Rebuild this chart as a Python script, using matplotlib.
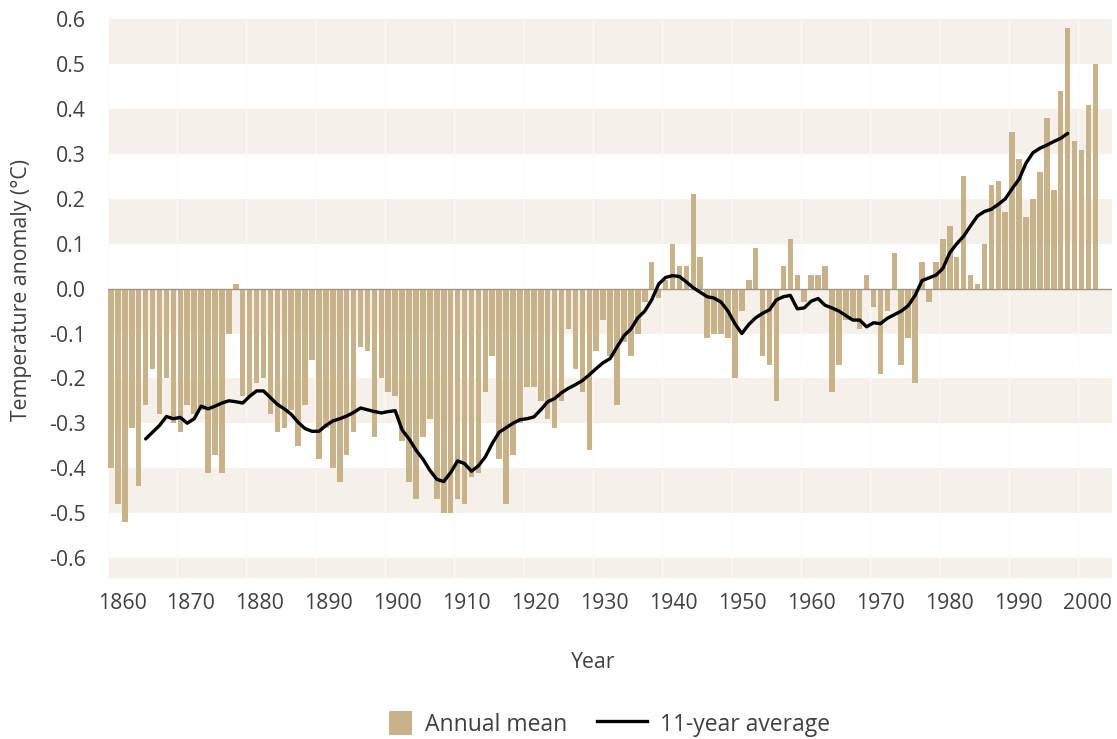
import numpy as np
import matplotlib
matplotlib.use("Agg")
import matplotlib.pyplot as plt
from matplotlib.patches import Patch, Rectangle
from matplotlib.lines import Line2D
from matplotlib.legend_handler import HandlerPatch

# ---------------- data ----------------
years = list(range(1860, 2003))
annual_mean = [
    -0.40, -0.48, -0.52, -0.31, -0.44, -0.26, -0.18, -0.28, -0.20, -0.30,  # 1860s
    -0.32, -0.26, -0.28, -0.27, -0.41, -0.37, -0.41, -0.10, 0.01, -0.24,   # 1870s
    -0.24, -0.21, -0.20, -0.28, -0.32, -0.31, -0.27, -0.35, -0.26, -0.16,  # 1880s
    -0.38, -0.31, -0.40, -0.43, -0.37, -0.32, -0.13, -0.14, -0.33, -0.20,  # 1890s
    -0.23, -0.24, -0.34, -0.43, -0.47, -0.33, -0.29, -0.47, -0.50, -0.50,  # 1900s
    -0.47, -0.48, -0.42, -0.41, -0.23, -0.15, -0.38, -0.48, -0.37, -0.30,  # 1910s
    -0.22, -0.22, -0.25, -0.29, -0.31, -0.25, -0.09, -0.18, -0.23, -0.36,  # 1920s
    -0.14, -0.07, -0.15, -0.26, -0.12, -0.15, -0.10, -0.03, 0.06, -0.02,   # 1930s
    0.02, 0.10, 0.05, 0.05, 0.21, 0.07, -0.11, -0.10, -0.10, -0.11,        # 1940s
    -0.20, -0.05, 0.02, 0.09, -0.15, -0.17, -0.25, 0.05, 0.11, 0.03,       # 1950s
    -0.03, 0.03, 0.03, 0.05, -0.23, -0.17, -0.07, -0.07, -0.09, 0.03,      # 1960s
    -0.04, -0.19, -0.05, 0.08, -0.17, -0.11, -0.21, 0.06, -0.03, 0.06,     # 1970s
    0.11, 0.14, 0.07, 0.25, 0.03, 0.01, 0.10, 0.23, 0.24, 0.17,            # 1980s
    0.35, 0.29, 0.16, 0.20, 0.26, 0.38, 0.22, 0.44, 0.58, 0.33,            # 1990s
    0.31, 0.41, 0.50,                                                      # 2000s
]

avg_years = list(range(1865, 1999))
avg_11yr = [
    -0.335, -0.32, -0.305, -0.285, -0.29,                                   # 1865-69
    -0.287, -0.30, -0.29, -0.262, -0.268, -0.262, -0.255, -0.25, -0.252, -0.255,  # 1870s
    -0.24, -0.228, -0.228, -0.243, -0.258, -0.268, -0.28, -0.298, -0.312, -0.318,  # 1880s
    -0.318, -0.305, -0.295, -0.29, -0.284, -0.276, -0.266, -0.27, -0.274, -0.277,  # 1890s
    -0.274, -0.272, -0.315, -0.335, -0.36, -0.38, -0.405, -0.425, -0.43, -0.41,    # 1900s
    -0.384, -0.39, -0.407, -0.395, -0.375, -0.345, -0.32, -0.31, -0.30, -0.292,    # 1910s
    -0.29, -0.286, -0.27, -0.252, -0.245, -0.232, -0.222, -0.214, -0.205, -0.192,  # 1920s
    -0.178, -0.165, -0.156, -0.13, -0.105, -0.09, -0.065, -0.05, -0.025, 0.01,     # 1930s
    0.025, 0.029, 0.027, 0.015, 0.002, -0.008, -0.018, -0.021, -0.03, -0.05,       # 1940s
    -0.078, -0.10, -0.08, -0.065, -0.055, -0.047, -0.025, -0.018, -0.015, -0.045,  # 1950s
    -0.043, -0.028, -0.022, -0.037, -0.043, -0.05, -0.06, -0.07, -0.07, -0.085,    # 1960s
    -0.076, -0.078, -0.066, -0.058, -0.05, -0.038, -0.015, 0.018, 0.024, 0.03,     # 1970s
    0.045, 0.08, 0.10, 0.117, 0.14, 0.162, 0.172, 0.177, 0.188, 0.20,              # 1980s
    0.223, 0.244, 0.28, 0.303, 0.313, 0.32, 0.328, 0.335, 0.346,                   # 1990-98
]

x_tick_labels = ["1860", "1870", "1880", "1890", "1900", "1910", "1920",
                 "1930", "1940", "1950", "1960", "1970", "1980", "1990", "2000"]
y_tick_values = [0.6, 0.5, 0.4, 0.3, 0.2, 0.1, 0.0, -0.1, -0.2, -0.3, -0.4, -0.5, -0.6]
y_tick_labels = ["0.6", "0.5", "0.4", "0.3", "0.2", "0.1", "0.0",
                 "-0.1", "-0.2", "-0.3", "-0.4", "-0.5", "-0.6"]
band_ranges = [(0.5, 0.6), (0.3, 0.4), (0.1, 0.2), (-0.1, 0.0),
               (-0.3, -0.2), (-0.5, -0.4), (-0.7, -0.6)]

# ---------------- style ----------------
plt.rcParams['font.family'] = ['Open Sans', 'DejaVu Sans']
TEXT = '#404040'
BAR = '#c8b28a'
BAND = '#f5f0e9'
FS = 15.3
LFS = 16.5

fig = plt.figure(figsize=(11.17, 7.39), dpi=100)
ax = fig.add_axes([108 / 1117, 1 - 578 / 739, (1112 - 108) / 1117, (578 - 15) / 739])

# background bands
for lo, hi in band_ranges:
    ax.axhspan(lo, hi, color=BAND, lw=0, zorder=0)
# faint decade separators
for d in range(1860, 2011, 10):
    ax.axvline(d - 0.5, color='#fcfaf7', lw=1.0, zorder=0.5)

# bars
ax.bar(years, annual_mean, width=0.8, color=BAR, lw=0, zorder=2)
# zero line
ax.axhline(0, color='#a09482', lw=1.0, zorder=2.5)
# 11-year average
ax.plot(avg_years, avg_11yr, color='black', lw=2.4, zorder=3,
        solid_joinstyle='round', solid_capstyle='round')

ax.set_xlim(1859.57, 2004.4)
ax.set_ylim(-0.645, 0.61)

tick_years = np.array([int(t) for t in x_tick_labels])
tick_pos = 1861.6 + (tick_years - 1860) * 0.9943
ax.set_xticks(tick_pos)
ax.set_xticklabels(x_tick_labels)
ax.set_yticks(y_tick_values)
ax.set_yticklabels(y_tick_labels)
ax.tick_params(axis='both', length=0, labelsize=FS, labelcolor=TEXT)
ax.tick_params(axis='y', pad=16)
ax.tick_params(axis='x', pad=11)
for s in ax.spines.values():
    s.set_visible(False)

ax.set_xlabel('Year', fontsize=FS, color=TEXT, va='center')
ax.xaxis.set_label_coords((593 - 108) / 1004, (578 - 663) / 563)
ax.set_ylabel('Temperature anomaly (°C)', fontsize=FS, color=TEXT, va='center')
ax.yaxis.set_label_coords((22 - 108) / 1004, (578 - 290) / 563)


def square_patch(legend, orig_handle, xdescent, ydescent, width, height, fontsize):
    return Rectangle((-xdescent + width - height, -ydescent), height, height)


handles = [Patch(facecolor=BAR, edgecolor='none'),
           Line2D([], [], color='black', lw=2.4)]
fig.legend(handles, ['Annual mean', '11-year average'],
           loc='center', bbox_to_anchor=(596 / 1117, 1 - 724 / 739),
           ncol=2, frameon=False, fontsize=LFS, labelcolor=TEXT,
           handlelength=2.2, handleheight=1.22, handletextpad=0.55,
           columnspacing=1.3,
           handler_map={Patch: HandlerPatch(patch_func=square_patch)})

fig.savefig('out.png', dpi=100)
